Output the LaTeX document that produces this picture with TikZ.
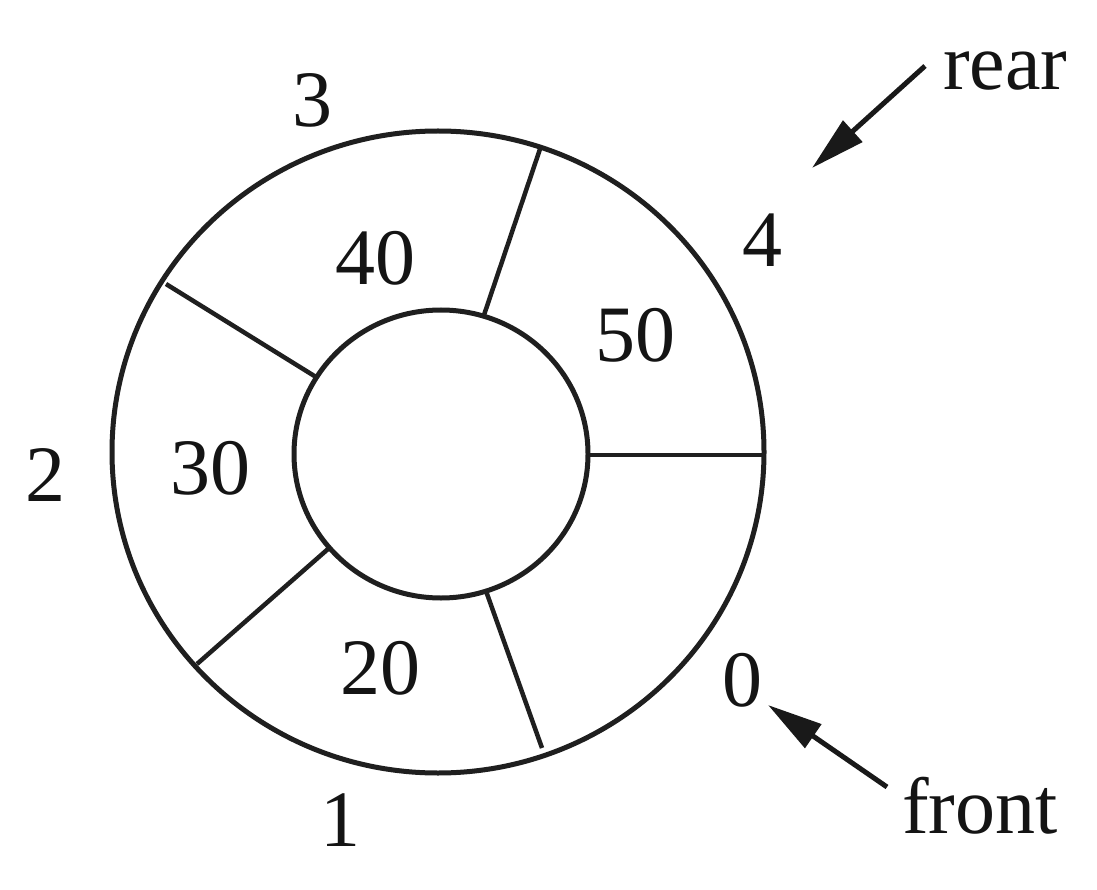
\documentclass[tikz,border=0pt]{standalone}
\usepackage{fontspec}
\setmainfont{Liberation Serif}
\usetikzlibrary{arrows.meta,shapes.geometric}
\begin{document}
\begin{tikzpicture}[x=1pt,y=-1pt,
  ring/.style={draw=black!88, line width=5pt, ellipse, inner sep=0pt},
  divider/.style={draw=black!88, line width=4.5pt},
  lbl/.style={font=\fontsize{80}{80}\selectfont, inner sep=0pt, text=black!92},
  ptr/.style={draw=black!90, line width=5pt, -{Triangle[length=55pt,width=28pt]}}]
\useasboundingbox (0,0) rectangle (1097,890);
\fill[white] (0,0) rectangle (1097,890);
\node[ring, minimum width=652pt, minimum height=642pt] (outer) at (438,452) {};
\node[ring, minimum width=294pt, minimum height=288pt] (inner) at (441,454) {};
% dividers
\coordinate (i0) at (588,455); \coordinate (o0) at (763,455);
\coordinate (i1) at (483,318); \coordinate (o1) at (540,149);
\coordinate (i2) at (316,377); \coordinate (o2) at (166,284);
\coordinate (i3) at (328,549); \coordinate (o3) at (197,664);
\coordinate (i4) at (486,591); \coordinate (o4) at (542,748);
\draw[divider] (i0) -- (o0);
\draw[divider] (i1) -- (o1);
\draw[divider] (i2) -- (o2);
\draw[divider] (i3) -- (o3);
\draw[divider] (i4) -- (o4);
% values
\node[lbl] (v50) at (635,335) {50};
\node[lbl] (v40) at (375,258) {40};
\node[lbl] (v30) at (210,468) {30};
\node[lbl] (v20) at (380,668) {20};
% indices
\node[lbl] (n3) at (312,100) {3};
\node[lbl] (n4) at (762,240) {4};
\node[lbl] (n2) at (45,475) {2};
\node[lbl] (n1) at (340,820) {1};
\node[lbl] (n0) at (742,680) {0};
% pointers
\node[lbl, anchor=base west] (rear) at (943,90) {rear};
\node[lbl, anchor=base west] (front) at (902,833) {front};
\coordinate (rt) at (925,66); \coordinate (rh) at (812,168);
\coordinate (ft) at (887,787); \coordinate (fh) at (768,705);
\draw[ptr] (rt) -- (rh);
\draw[ptr] (ft) -- (fh);
\end{tikzpicture}
\end{document}
